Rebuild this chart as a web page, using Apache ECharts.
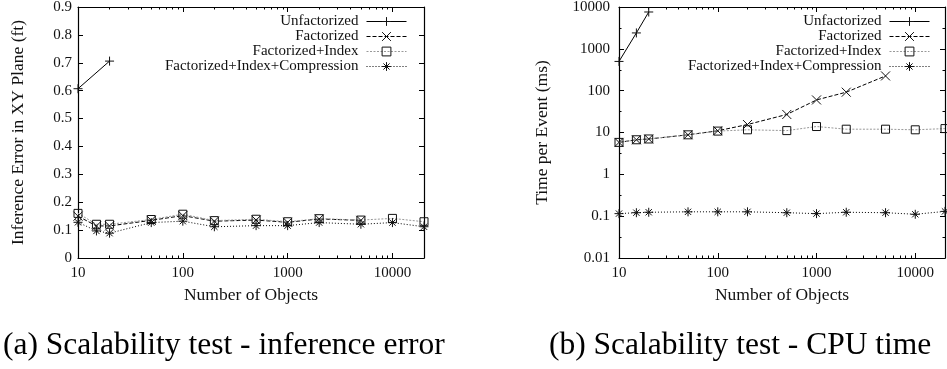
<!DOCTYPE html>
<html>
<head>
<meta charset="utf-8">
<script src="https://cdn.jsdelivr.net/npm/echarts@6/dist/echarts.min.js"></script>
<style>
  html, body { margin: 0; background: #fff; }
  #chart { width: 947px; height: 369px; }
</style>
</head>
<body>
<div id="chart"></div>
<script>
// number of objects (shared x values)
const objectCounts = [10, 15, 20, 50, 100, 200, 500, 1000, 2000, 5000, 10000, 20000];
const seriesNames = ['Unfactorized', 'Factorized', 'Factorized+Index', 'Factorized+Index+Compression'];

// (a) inference error in XY plane (ft)
const errUnfactorized = [0.607, null, 0.706, null, null, null, null, null, null, null, null, null];
const errFactorized   = [0.150, 0.115, 0.115, 0.135, 0.152, 0.132, 0.136, 0.128, 0.140, 0.135, null, null];
const errIndex        = [0.160, 0.121, 0.121, 0.138, 0.157, 0.134, 0.139, 0.130, 0.141, 0.136, 0.142, 0.130];
const errCompression  = [0.128, 0.097, 0.089, 0.127, 0.132, 0.112, 0.116, 0.116, 0.127, 0.121, 0.127, 0.112];

// (b) time per event (ms)
const timeUnfactorized = [500, 2400, 7600, null, null, null, null, null, null, null, null, null];
const timeFactorized   = [5.8, 6.7, 7.0, 8.8, 11.0, 15.5, 27, 60, 92, 225, null, null];
const timeIndex        = [5.8, 6.7, 7.0, 8.8, 10.8, 11.6, 11.1, 13.9, 12.0, 12.0, 11.6, 12.4];
const timeCompression  = [0.115, 0.121, 0.124, 0.127, 0.127, 0.127, 0.121, 0.115, 0.124, 0.121, 0.111, 0.130];

const errTicks = { min: 0, max: 0.9, interval: 0.1 };
const timeTicks = { min: 0.01, max: 10000 };
const xRange = { min: 10, max: 20000 };

const SERIF = 'Liberation Serif';

// minor ticks like gnuplot: 2..9 in each decade
const xMinor = [];
[10, 100, 1000, 10000].forEach(d => { for (let k = 2; k <= 9; k++) if (d * k <= xRange.max) xMinor.push(d * k); });
const yMinorTime = [];
for (let e = -2; e < 4; e++) yMinorTime.push(Math.pow(10, e + 0.5));

const marks = {
  'Unfactorized': { symbol: 'path://M5,0V10M0,5H10', line: { color: '#000', type: 'solid' } },
  'Factorized': { symbol: 'path://M0,0L10,10M10,0L0,10', line: { color: '#000', type: [4, 2] } },
  'Factorized+Index': { symbol: 'path://M0,0H10V10H0Z', line: { color: '#999', type: [2, 1.5] } },
  'Factorized+Index+Compression': { symbol: 'path://M5,0V10M0,5H10M1.5,1.5L8.5,8.5M8.5,1.5L1.5,8.5', line: { color: '#000', type: [1, 2] } }
};

function fmt(v) { return String(Number(v.toPrecision(6))); }

function pairs(ys) {
  return objectCounts.map((x, i) => [x, ys[i]]).filter(p => p[1] != null);
}

function makeSeries(name, ys, xi, yi) {
  const m = marks[name];
  return {
    name: name, type: 'line', xAxisIndex: xi, yAxisIndex: yi,
    data: pairs(ys),
    symbol: m.symbol, symbolSize: name === 'Factorized+Index' ? 8 : 9,
    showAllSymbol: true,
    lineStyle: { width: 1, color: m.line.color, type: m.line.type },
    itemStyle: { color: 'transparent', borderColor: '#111', borderWidth: 1 },
    emphasis: { disabled: true },
    animation: false
  };
}

const nameStyle = { fontFamily: SERIF, fontSize: 17.5, color: '#111' };

function xAxesFor(grid) {
  const base = { type: 'log', gridIndex: grid, min: xRange.min, max: xRange.max, logBase: 10 };
  return [
    Object.assign({}, base, {
      position: 'bottom',
      name: 'Number of Objects', nameLocation: 'middle', nameGap: 28,
      nameTextStyle: nameStyle,
      axisLine: { lineStyle: { color: '#000', width: 1.2 } },
      axisTick: { inside: true, length: 5, lineStyle: { color: '#000' } },
      axisLabel: { showMaxLabel: false, margin: 8, fontFamily: SERIF, fontSize: 15, color: '#111', formatter: fmt },
      splitLine: { show: false }
    }),
    Object.assign({}, base, {
      position: 'bottom',
      axisLine: { show: false },
      axisTick: { inside: true, length: 2.5, customValues: xMinor, lineStyle: { color: '#000' } },
      axisLabel: { show: false }, splitLine: { show: false }
    }),
    Object.assign({}, base, {
      position: 'top',
      axisLine: { lineStyle: { color: '#000', width: 1.2 } },
      axisTick: { inside: true, length: 5, lineStyle: { color: '#000' } },
      axisLabel: { show: false }, splitLine: { show: false }
    }),
    Object.assign({}, base, {
      position: 'top',
      axisLine: { show: false },
      axisTick: { inside: true, length: 2.5, customValues: xMinor, lineStyle: { color: '#000' } },
      axisLabel: { show: false }, splitLine: { show: false }
    })
  ];
}

const yAxes = [
  // grid 0
  {
    type: 'value', gridIndex: 0, position: 'left', min: errTicks.min, max: errTicks.max, interval: errTicks.interval,
    name: 'Inference Error in XY Plane (ft)', nameLocation: 'middle', nameGap: 51,
    nameTextStyle: nameStyle,
    axisLine: { show: true, lineStyle: { color: '#000', width: 1.2 } },
    axisTick: { show: true, inside: true, length: 5, lineStyle: { color: '#000' } },
    axisLabel: { margin: 6, fontFamily: SERIF, fontSize: 15, color: '#111', formatter: fmt },
    splitLine: { show: false }
  },
  {
    type: 'value', gridIndex: 0, position: 'right', min: errTicks.min, max: errTicks.max, interval: errTicks.interval,
    axisLine: { show: true, lineStyle: { color: '#000', width: 1.2 } },
    axisTick: { show: true, inside: true, length: 5, lineStyle: { color: '#000' } },
    axisLabel: { show: false }, splitLine: { show: false }
  },
  // grid 1
  {
    type: 'log', logBase: 10, gridIndex: 1, position: 'left', min: timeTicks.min, max: timeTicks.max,
    name: 'Time per Event (ms)', nameLocation: 'middle', nameGap: 68,
    nameTextStyle: nameStyle,
    axisLine: { show: true, lineStyle: { color: '#000', width: 1.2 } },
    axisTick: { show: true, inside: true, length: 5, lineStyle: { color: '#000' } },
    axisLabel: { margin: 9, fontFamily: SERIF, fontSize: 15, color: '#111', formatter: fmt },
    splitLine: { show: false }
  },
  {
    type: 'log', logBase: 10, gridIndex: 1, position: 'right', min: timeTicks.min, max: timeTicks.max,
    axisLine: { show: true, lineStyle: { color: '#000', width: 1.2 } },
    axisTick: { show: true, inside: true, length: 5, lineStyle: { color: '#000' } },
    axisLabel: { show: false }, splitLine: { show: false }
  },
  {
    type: 'log', logBase: 10, gridIndex: 1, position: 'left', min: timeTicks.min, max: timeTicks.max,
    axisLine: { show: false },
    axisTick: { show: true, inside: true, length: 2.5, customValues: yMinorTime, lineStyle: { color: '#000' } },
    axisLabel: { show: false }, splitLine: { show: false }
  },
  {
    type: 'log', logBase: 10, gridIndex: 1, position: 'right', min: timeTicks.min, max: timeTicks.max,
    axisLine: { show: false },
    axisTick: { show: true, inside: true, length: 2.5, customValues: yMinorTime, lineStyle: { color: '#000' } },
    axisLabel: { show: false }, splitLine: { show: false }
  }
];

const legendBase = {
  orient: 'vertical', align: 'right', top: 9,
  itemWidth: 40, itemHeight: 11, itemGap: 0,
  selectedMode: false, data: seriesNames,
  itemStyle: { color: 'transparent', borderColor: '#111', borderWidth: 1 },
  lineStyle: { width: 1 },
  textStyle: { fontFamily: SERIF, fontSize: 15, lineHeight: 15, color: '#111', padding: [0, 3, 0, 0] }
};

const captionStyle = { fontFamily: SERIF, fontSize: 31.5, fontWeight: 'normal', color: '#000' };

const chart = echarts.init(document.getElementById('chart'), null, { renderer: 'canvas' });
chart.setOption({
  backgroundColor: '#fff',
  animation: false,
  title: [
    { text: '(a) Scalability test - inference error', left: -2, top: 325, textStyle: captionStyle },
    { text: '(b) Scalability test - CPU time', left: 544, top: 325, textStyle: captionStyle }
  ],
  legend: [
    Object.assign({}, legendBase, { right: 535 }),
    Object.assign({}, legendBase, { right: 12 })
  ],
  grid: [
    { left: 78, top: 7, width: 346, height: 251, outerBoundsMode: 'none' },
    { left: 619, top: 7, width: 326, height: 251, outerBoundsMode: 'none' }
  ],
  xAxis: xAxesFor(0).concat(xAxesFor(1)),
  yAxis: yAxes,
  series: [
    makeSeries('Unfactorized', errUnfactorized, 0, 0),
    makeSeries('Factorized', errFactorized, 0, 0),
    makeSeries('Factorized+Index', errIndex, 0, 0),
    makeSeries('Factorized+Index+Compression', errCompression, 0, 0),
    makeSeries('Unfactorized', timeUnfactorized, 4, 2),
    makeSeries('Factorized', timeFactorized, 4, 2),
    makeSeries('Factorized+Index', timeIndex, 4, 2),
    makeSeries('Factorized+Index+Compression', timeCompression, 4, 2)
  ]
});
</script>
</body>
</html>
